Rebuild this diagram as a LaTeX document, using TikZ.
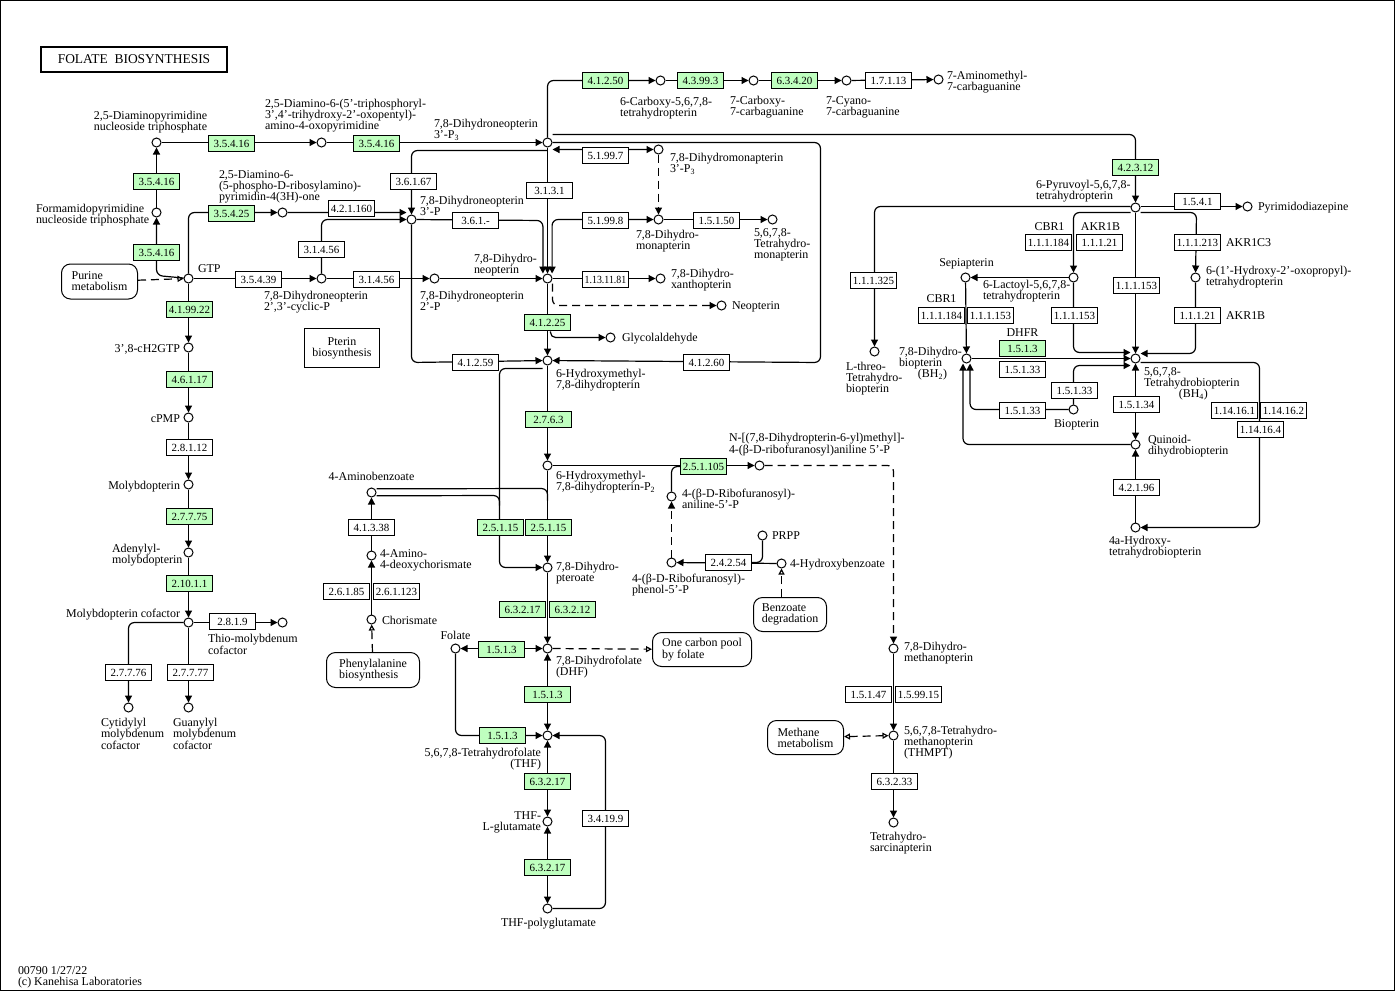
\documentclass[tikz,border=0pt]{standalone}
\usepackage{fontspec}
\usepackage{graphicx}
\setmainfont{Liberation Serif}
\usetikzlibrary{arrows.meta}
\pgfdeclarelayer{edges}
\pgfsetlayers{edges,main}
\definecolor{ecgreen}{HTML}{BFFFBF}
\begin{document}
\begin{tikzpicture}[x=1bp,y=-1bp,line width=1bp,
        font=\fontsize{12}{11}\selectfont,
        cpd/.style={circle,draw,fill=white,minimum size=9bp,inner sep=0pt},
        ec/.style={draw,fill=white,minimum width=46bp,minimum height=16.5bp,inner xsep=0.5pt,inner ysep=0pt,font=\fontsize{11}{11}\selectfont},
        gec/.style={ec,fill=ecgreen},
        lbl/.style={inner sep=0pt,align=left,anchor=base west},
        mapbox/.style={draw,rounded corners=9bp,align=left,inner sep=0pt},
        dashline/.style={dash pattern=on 8bp off 5bp},
        rx/.style={-{Triangle[length=7bp,width=7bp]}},
        rxx/.style={{Triangle[length=7bp,width=7bp]}-{Triangle[length=7bp,width=7bp]}},
        mlink/.style={dashline,-{Triangle[open,length=6bp,width=6bp]}},
        mlinkk/.style={dashline,{Triangle[open,length=6bp,width=6bp]}-{Triangle[open,length=6bp,width=6bp]}}]
             \useasboundingbox (-0.5,-0.5) rectangle (1394.5,990.5);
             \draw (0,0) rectangle (1394,990);
             \node[draw,line width=2bp,minimum width=185bp,minimum height=25bp,font=\fontsize{13.5}{13.5}\selectfont] (title) at (133.5,58.5) {FOLATE\ \ BIOSYNTHESIS};
             \node[lbl] (footer) at (17,985) {00790 1/27/22\\(c) Kanehisa Laboratories};

             \node[mapbox,minimum width=76bp,minimum height=35bp] (purine) at (99,281) {Purine\\metabolism};
             \node[draw,align=center,inner sep=0pt,minimum width=75bp,minimum height=39bp] (pterin) at (341.5,347.5) {Pterin\\biosynthesis};
             \node[mapbox,minimum width=93bp,minimum height=35bp] (phe) at (372.5,669.5) {Phenylalanine\\biosynthesis};
             \node[mapbox,minimum width=73bp,minimum height=34bp] (benzo) at (789.5,614) {Benzoate\\degradation};
             \node[mapbox,minimum width=99bp,minimum height=34bp] (onec) at (701.5,649) {One carbon pool\\by folate};
             \node[mapbox,minimum width=76bp,minimum height=34bp] (meth) at (805,737) {Methane\\metabolism};

             \node[cpd] (dapnt) at (156,142) {};
             \node[cpd] (dap2) at (321,142) {};
             \node[cpd] (dhnp3) at (547,142) {};
             \node[cpd] (fapnt) at (156,212) {};
             \node[cpd] (gtp) at (188,278) {};
             \node[cpd] (dapr) at (282,212) {};
             \node[cpd] (dhnpcyc) at (321,278) {};
             \node[cpd] (dhnp3p) at (411,219) {};
             \node[cpd] (dhnp2p) at (434,278) {};
             \node[cpd] (cthp) at (660,80) {};
             \node[cpd] (cdg) at (753,80) {};
             \node[cpd] (precq0) at (846,80) {};
             \node[cpd] (preq1) at (938,79) {};
             \node[cpd] (dhmp3) at (658,149) {};
             \node[cpd] (dhm) at (658,219) {};
             \node[cpd] (thm) at (772,219) {};
             \node[cpd] (dhnp) at (547,278) {};
             \node[cpd] (dhx) at (660,278) {};
             \node[cpd] (neo) at (721,305) {};
             \node[cpd] (gly) at (610,337) {};
             \node[cpd] (hmdhp) at (547,360) {};
             \node[cpd] (hmdhp2) at (547,465) {};
             \node[cpd] (npb) at (759,465) {};
             \node[cpd] (rap) at (671,496) {};
             \node[cpd] (rphen) at (671,562) {};
             \node[cpd] (prpp) at (762,535) {};
             \node[cpd] (hba) at (781,563) {};
             \node[cpd] (aba) at (371,492) {};
             \node[cpd] (adc) at (371,555) {};
             \node[cpd] (chor) at (371,619) {};
             \node[cpd] (dhpt) at (547,567) {};
             \node[cpd] (dhf) at (547,648) {};
             \node[cpd] (folate) at (455,648) {};
             \node[cpd] (thf) at (547,735) {};
             \node[cpd] (thfglu) at (547,821) {};
             \node[cpd] (thfpoly) at (547,908) {};
             \node[cpd] (dhmpt) at (893,648) {};
             \node[cpd] (thmpt) at (893,735) {};
             \node[cpd] (thsp) at (893,822) {};
             \node[cpd] (cgtp) at (188,347) {};
             \node[cpd] (cpmp) at (188,417) {};
             \node[cpd] (mpt) at (188,484) {};
             \node[cpd] (ampt) at (188,552) {};
             \node[cpd] (moco) at (188,622) {};
             \node[cpd] (thiomo) at (282,622) {};
             \node[cpd] (cmoco) at (128,707) {};
             \node[cpd] (gmoco) at (188,707) {};
             \node[cpd] (ptp) at (1135,207) {};
             \node[cpd] (pyrim) at (1247,206) {};
             \node[cpd] (lthreo) at (874,351) {};
             \node[cpd] (lactoyl) at (1073,277) {};
             \node[cpd] (sepia) at (965,277) {};
             \node[cpd] (hop) at (1195,277) {};
             \node[cpd] (bh2) at (966,358) {};
             \node[cpd] (bh4) at (1135,358) {};
             \node[cpd] (biop) at (1073,409) {};
             \node[cpd] (qdhb) at (1135,444) {};
             \node[cpd] (ahb) at (1135,527) {};

             \node[gec] (e01) at (231,143) {3.5.4.16};
             \node[gec] (e02) at (376,143) {3.5.4.16};
             \node[gec] (e03) at (156,181) {3.5.4.16};
             \node[gec] (e04) at (156,252) {3.5.4.16};
             \node[gec] (e05) at (231,213) {3.5.4.25};
             \node[ec] (e06) at (351,208) {4.2.1.160};
             \node[ec] (e07) at (321,249) {3.1.4.56};
             \node[ec] (e08) at (258,279) {3.5.4.39};
             \node[ec] (e09) at (376,279) {3.1.4.56};
             \node[ec] (e10) at (413,181) {3.6.1.67};
             \node[ec] (e11) at (475,220) {3.6.1.-};
             \node[ec] (e12) at (549,190) {3.1.3.1};
             \node[ec] (e13) at (605,155) {5.1.99.7};
             \node[ec] (e14) at (605,220) {5.1.99.8};
             \node[ec] (e15) at (716,220) {1.5.1.50};
             \node[ec] (e16) at (605,279) {\scalebox{0.9}[1]{1.13.11.81}};
             \node[gec] (e17) at (547,322) {4.1.2.25};
             \node[gec] (e18) at (605,80) {4.1.2.50};
             \node[gec] (e19) at (700,80) {4.3.99.3};
             \node[gec] (e20) at (794,80) {6.3.4.20};
             \node[ec] (e21) at (888,80) {1.7.1.13};
             \node[ec] (e22) at (475,362) {4.1.2.59};
             \node[ec] (e23) at (706,362) {4.1.2.60};
             \node[gec] (e24) at (548,419) {2.7.6.3};
             \node[gec] (e25) at (703,466) {2.5.1.105};
             \node[ec] (e26) at (728,562) {2.4.2.54};
             \node[gec] (e27) at (500,527) {2.5.1.15};
             \node[gec] (e28) at (548,527) {2.5.1.15};
             \node[ec] (e29) at (371,527) {4.1.3.38};
             \node[ec] (e30) at (346,591) {2.6.1.85};
             \node[ec] (e31) at (396,591) {2.6.1.123};
             \node[gec] (e32) at (522,609) {6.3.2.17};
             \node[gec] (e33) at (572,609) {6.3.2.12};
             \node[gec] (e34) at (501,649) {1.5.1.3};
             \node[gec] (e35) at (547,694) {1.5.1.3};
             \node[gec] (e36) at (502,735) {1.5.1.3};
             \node[gec] (e37) at (547,781) {6.3.2.17};
             \node[gec] (e38) at (547,867) {6.3.2.17};
             \node[ec] (e39) at (605,818) {3.4.19.9};
             \node[ec] (e40) at (868,694) {1.5.1.47};
             \node[ec] (e41) at (918,694) {1.5.99.15};
             \node[ec] (e42) at (894,781) {6.3.2.33};
             \node[gec] (e43) at (189,309) {4.1.99.22};
             \node[gec] (e44) at (189,379) {4.6.1.17};
             \node[ec] (e45) at (189,447) {2.8.1.12};
             \node[gec] (e46) at (189,516) {2.7.7.75};
             \node[gec] (e47) at (189,583) {2.10.1.1};
             \node[ec] (e48) at (232,621) {2.8.1.9};
             \node[ec] (e49) at (128,672) {2.7.7.76};
             \node[ec] (e50) at (190,672) {2.7.7.77};
             \node[gec] (e51) at (1135,167) {4.2.3.12};
             \node[ec] (e52) at (1197,201) {1.5.4.1};
             \node[ec] (e53) at (873,280) {1.1.1.325};
             \node[ec] (e54) at (1048,242) {1.1.1.184};
             \node[ec] (e55) at (1099,242) {1.1.1.21};
             \node[ec] (e56) at (1197,242) {1.1.1.213};
             \node[ec] (e57) at (1136,285) {1.1.1.153};
             \node[ec] (e58) at (941,315) {1.1.1.184};
             \node[ec] (e59) at (990,315) {1.1.1.153};
             \node[ec] (e60) at (1074,315) {1.1.1.153};
             \node[ec] (e61) at (1197,315) {1.1.1.21};
             \node[gec] (e62) at (1022,348) {1.5.1.3};
             \node[ec] (e63) at (1022,369) {1.5.1.33};
             \node[ec] (e64) at (1074,390) {1.5.1.33};
             \node[ec] (e65) at (1022,410) {1.5.1.33};
             \node[ec] (e66) at (1136,404) {1.5.1.34};
             \node[ec] (e67) at (1234,410) {1.14.16.1};
             \node[ec] (e68) at (1283,410) {1.14.16.2};
             \node[ec] (e69) at (1260,429) {1.14.16.4};
             \node[ec] (e70) at (1136,487) {4.2.1.96};

             \node[lbl,anchor=base,align=center] (l-dapnt) at (150,130) {2,5-Diaminopyrimidine\\nucleoside triphosphate};
             \node[lbl] (l-dap2) at (264,129) {2,5-Diamino-6-(5'-triphosphoryl-\\3',4'-trihydroxy-2'-oxopentyl)-\\amino-4-oxopyrimidine};
             \node[lbl] (l-dhnp3) at (433,138) {7,8-Dihydroneopterin\\3'-P\textsubscript{3}};
             \node[lbl] (l-fapnt) at (35,223) {Formamidopyrimidine\\nucleoside triphosphate};
             \node[lbl] (l-gtp) at (197,272) {GTP};
             \node[lbl] (l-dapr) at (218,200) {2,5-Diamino-6-\\(5-phospho-D-ribosylamino)-\\pyrimidin-4(3H)-one};
             \node[lbl] (l-dhnpcyc) at (263,310) {7,8-Dihydroneopterin\\2',3'-cyclic-P};
             \node[lbl] (l-dhnp3p) at (419,215) {7,8-Dihydroneopterin\\3'-P};
             \node[lbl] (l-dhnp2p) at (419,310) {7,8-Dihydroneopterin\\2'-P};
             \node[lbl] (l-cthp) at (619,116) {6-Carboxy-5,6,7,8-\\tetrahydropterin};
             \node[lbl] (l-cdg) at (729,115) {7-Carboxy-\\7-carbaguanine};
             \node[lbl] (l-precq0) at (825,115) {7-Cyano-\\7-carbaguanine};
             \node[lbl] (l-preq1) at (946,90) {7-Aminomethyl-\\7-carbaguanine};
             \node[lbl] (l-dhmp3) at (669,172) {7,8-Dihydromonapterin\\3'-P\textsubscript{3}};
             \node[lbl] (l-dhm) at (635,249) {7,8-Dihydro-\\monapterin};
             \node[lbl] (l-thm) at (753,258) {5,6,7,8-\\Tetrahydro-\\monapterin};
             \node[lbl] (l-dhnp) at (473,273) {7,8-Dihydro-\\neopterin};
             \node[lbl] (l-dhx) at (670,288) {7,8-Dihydro-\\xanthopterin};
             \node[lbl] (l-neo) at (731,309) {Neopterin};
             \node[lbl] (l-gly) at (621,341) {Glycolaldehyde};
             \node[lbl] (l-hmdhp) at (555,388) {6-Hydroxymethyl-\\7,8-dihydropterin};
             \node[lbl] (l-hmdhp2) at (555,490) {6-Hydroxymethyl-\\7,8-dihydropterin-P\textsubscript{2}};
             \node[lbl] (l-npb) at (728,453) {N-[(7,8-Dihydropterin-6-yl)methyl]-\\4-(β-D-ribofuranosyl)aniline 5'-P};
             \node[lbl] (l-rap) at (681,508) {4-(β-D-Ribofuranosyl)-\\aniline-5'-P};
             \node[lbl] (l-rphen) at (631,593) {4-(β-D-Ribofuranosyl)-\\phenol-5'-P};
             \node[lbl] (l-prpp) at (771,539) {PRPP};
             \node[lbl] (l-hba) at (789,567) {4-Hydroxybenzoate};
             \node[lbl,anchor=base] (l-aba) at (371,480) {4-Aminobenzoate};
             \node[lbl] (l-adc) at (379,568) {4-Amino-\\4-deoxychorismate};
             \node[lbl] (l-chor) at (381,624) {Chorismate};
             \node[lbl] (l-dhpt) at (555,581) {7,8-Dihydro-\\pteroate};
             \node[lbl] (l-dhf) at (555,675) {7,8-Dihydrofolate\\(DHF)};
             \node[lbl,anchor=base] (l-folate) at (455,639) {Folate};
             \node[lbl,anchor=base east,align=right] (l-thf) at (541,767) {5,6,7,8-Tetrahydrofolate\\(THF)};
             \node[lbl,anchor=base east,align=right] (l-thfglu) at (541,830) {THF-\\L-glutamate};
             \node[lbl,anchor=base] (l-thfpoly) at (548,926) {THF-polyglutamate};
             \node[lbl] (l-dhmpt) at (903,661) {7,8-Dihydro-\\methanopterin};
             \node[lbl] (l-thmpt) at (903,756) {5,6,7,8-Tetrahydro-\\methanopterin\\(THMPT)};
             \node[lbl] (l-thsp) at (869,851) {Tetrahydro-\\sarcinapterin};
             \node[lbl,anchor=base east] (l-cgtp) at (180,352) {3',8-cH2GTP};
             \node[lbl,anchor=base east] (l-cpmp) at (180,422) {cPMP};
             \node[lbl,anchor=base east] (l-mpt) at (180,489) {Molybdopterin};
             \node[lbl] (l-ampt) at (111,563) {Adenylyl-\\molybdopterin};
             \node[lbl,anchor=base east] (l-moco) at (180,617) {Molybdopterin cofactor};
             \node[lbl] (l-thiomo) at (207,654) {Thio-molybdenum\\cofactor};
             \node[lbl] (l-cmoco) at (100,749) {Cytidylyl\\molybdenum\\cofactor};
             \node[lbl] (l-gmoco) at (172,749) {Guanylyl\\molybdenum\\cofactor};
             \node[lbl] (l-ptp) at (1035,199) {6-Pyruvoyl-5,6,7,8-\\tetrahydropterin};
             \node[lbl] (l-pyrim) at (1257,210) {Pyrimidodiazepine};
             \node[lbl,anchor=base] (g-cbr1a) at (1049,230) {CBR1};
             \node[lbl,anchor=base] (g-akr1ba) at (1100,230) {AKR1B};
             \node[lbl] (g-akr1c3) at (1225,246) {AKR1C3};
             \node[lbl,anchor=base] (l-sepia) at (966,266) {Sepiapterin};
             \node[lbl] (l-lactoyl) at (982,299) {6-Lactoyl-5,6,7,8-\\tetrahydropterin};
             \node[lbl,anchor=base] (g-cbr1b) at (941,302) {CBR1};
             \node[lbl] (l-hop) at (1205,285) {6-(1'-Hydroxy-2'-oxopropyl)-\\tetrahydropterin};
             \node[lbl] (g-akr1bb) at (1225,319) {AKR1B};
             \node[lbl] (l-lthreo) at (845,392) {L-threo-\\Tetrahydro-\\biopterin};
             \node[lbl] (l-bh2) at (898,377) {7,8-Dihydro-\\biopterin\\\hspace*{19pt}(BH\textsubscript{2})};
             \node[lbl,anchor=base] (g-dhfr) at (1022,336) {DHFR};
             \node[lbl] (l-bh4) at (1143,397) {5,6,7,8-\\Tetrahydrobiopterin\\\hspace*{35pt}(BH\textsubscript{4})};
             \node[lbl] (l-biop) at (1053,427) {Biopterin};
             \node[lbl] (l-qdhb) at (1147,454) {Quinoid-\\dihydrobiopterin};
             \node[lbl] (l-ahb) at (1108,555) {4a-Hydroxy-\\tetrahydrobiopterin};

             \begin{pgfonlayer}{edges}
             \begin{scope}[rounded corners=6bp,line width=1.2bp]
             \draw[mlink] (purine) -- (gtp);
             \draw[rx] (gtp) -- (156,275) -- (fapnt);
             \draw[rx] (fapnt) -- (dapnt);
             \draw[rx] (dapnt) -- (dap2);
             \draw[rx] (dap2) -- (dhnp3);
             \draw[rx] (gtp) -- (188,212) -- (dapr);
             \draw[rx] (dapr) -- ([yshift=7bp]dhnp3p.west);
             \draw[rx] (dhnpcyc) -- (321,219) -- (dhnp3p);
             \draw[rx] (gtp) -- (dhnpcyc);
             \draw[rx] (dhnpcyc) -- (dhnp2p);
             \draw[rx] (dhnp2p) -- (dhnp);
             \draw[rx] ([yshift=-8bp]dhnp3.center) -- (411,150) -- (dhnp3p);
             \draw[rx] (dhnp3) -- (dhnp);
             \draw[rx] (dhnp3p) -- (542.4,220) -- ([xshift=-4.6bp]dhnp.north);
             \draw[rxx] (dhm) -- (551.6,219) -- ([xshift=4.6bp]dhnp.north);
             \draw[rxx] (dhmp3) -- ([yshift=-7bp]dhnp3.east);
             \draw[rx,dashline] (dhmp3) -- (dhm);
             \draw[rx] (dhm) -- (thm);
             \draw[rx] (dhnp) -- (dhx);
             \draw[rx,dashline] ([xshift=5bp]dhnp.south) -- (552,305) -- (neo);
             \draw[rx] (dhnp) -- (hmdhp);
             \draw[rx,rounded corners=5bp] ([xshift=3bp]e17.south) |- (gly);
             \draw[rx] (dhnp3) -- (547,80) -- (cthp);
             \draw[rx] (cthp) -- (cdg);
             \draw[rx] (cdg) -- (precq0);
             \draw[rx] (precq0) -- (preq1);
             \draw[rx] ([yshift=8bp]dhnp3.east) -- (1135,134) -- (ptp);
             \draw[rx] (dhnp3) -- (820,142) -- (820,362) -- (hmdhp);
             \draw[rx] (dhnp3p) -- (411,362) -- (hmdhp);
             \draw[rx] (hmdhp) -- (hmdhp2);
             \draw[rx] (hmdhp2) -- (dhpt);
             \draw[rx] ([yshift=-8bp]hmdhp.west) -- (499,368) -- (499,567) -- (dhpt);
             \draw ([yshift=3.7bp]aba.east) -- (547,488) -- (547,500);
             \draw ([yshift=-3.3bp]aba.east) -- (499,495) -- (499,505);
             \draw[rx] (hmdhp2) -- (npb);
             \draw (rap) -- (671,466) -- (e25.west);
             \draw[rx,dashline] (rphen) -- (rap);
             \draw[rx] (hba) -- (rphen);
             \draw (prpp) -- (762,562) -- (e26.east);
             \draw[mlink] (benzo.north -| hba) -- (hba);
             \draw[rx] (chor) -- (adc);
             \draw[rx] (adc) -- (aba);
             \draw[mlink] (phe) -- (chor);
             \draw[rx] (dhpt) -- (dhf);
             \draw[rxx] (dhf) -- (folate);
             \draw[rxx] (dhf) -- (thf);
             \draw[rx] (folate) -- (455,735) -- (thf);
             \draw[rxx] (thf) -- (thfglu);
             \draw[rxx] (thfglu) -- (thfpoly);
             \draw[rx] (thfpoly) -- (605,908) -- (605,735) -- (thf);
             \draw[mlink] (dhf) -- (onec);
             \draw[rx,dashline] (npb) -- (893,465) -- (dhmpt);
             \draw[rx] (dhmpt) -- (thmpt);
             \draw[mlinkk] (meth) -- (thmpt);
             \draw[rx] (thmpt) -- (thsp);
             \draw[rx] (gtp) -- (cgtp);
             \draw[rx] (cgtp) -- (cpmp);
             \draw[rx] (cpmp) -- (mpt);
             \draw[rx] (mpt) -- (ampt);
             \draw[rx] (ampt) -- (moco);
             \draw[rx] (moco) -- (thiomo);
             \draw[rx] (moco) -- (128,622) -- (cmoco);
             \draw[rx] (moco) -- (gmoco);
             \draw[rx] ([yshift=1bp]ptp.east) -- (pyrim);
             \draw[rx] ([yshift=1bp]ptp.west) -- (874,206) -- (lthreo);
             \draw[rx] ([yshift=-5bp]ptp.west) -- (1073,212) -- (lactoyl);
             \draw[rx] ([yshift=-5bp]ptp.east) -- (1196,212) -- (hop);
             \draw[rx] (ptp) -- (bh4);
             \draw[rx] (lactoyl) -- (sepia);
             \draw[rx] (sepia) -- (bh2);
             \draw[rx] (lactoyl) -- (1073,352) -- ([yshift=6bp]bh4.west);
             \draw[rx] (bh2) -- (bh4);
             \draw[rx] (biop) -- (1073,365) -- ([yshift=-7bp]bh4.west);
             \draw[rx] (hop) -- (1195,353) -- ([yshift=5bp]bh4.east);
             \draw[rx] (biop) -- (969.5,409) -- ([xshift=3.5bp]bh2.south);
             \draw[rx] (qdhb) -- (962.5,444) -- ([xshift=-3.5bp]bh2.south);
             \draw[rxx] (bh4) -- (qdhb);
             \draw[rx] (ahb) -- (qdhb);
             \draw[rx] ([yshift=-4bp]bh4.east) -- (1259,362) -- (1259,527) -- (ahb);
             \end{scope}
             \end{pgfonlayer}
        \end{tikzpicture}
\end{document}
